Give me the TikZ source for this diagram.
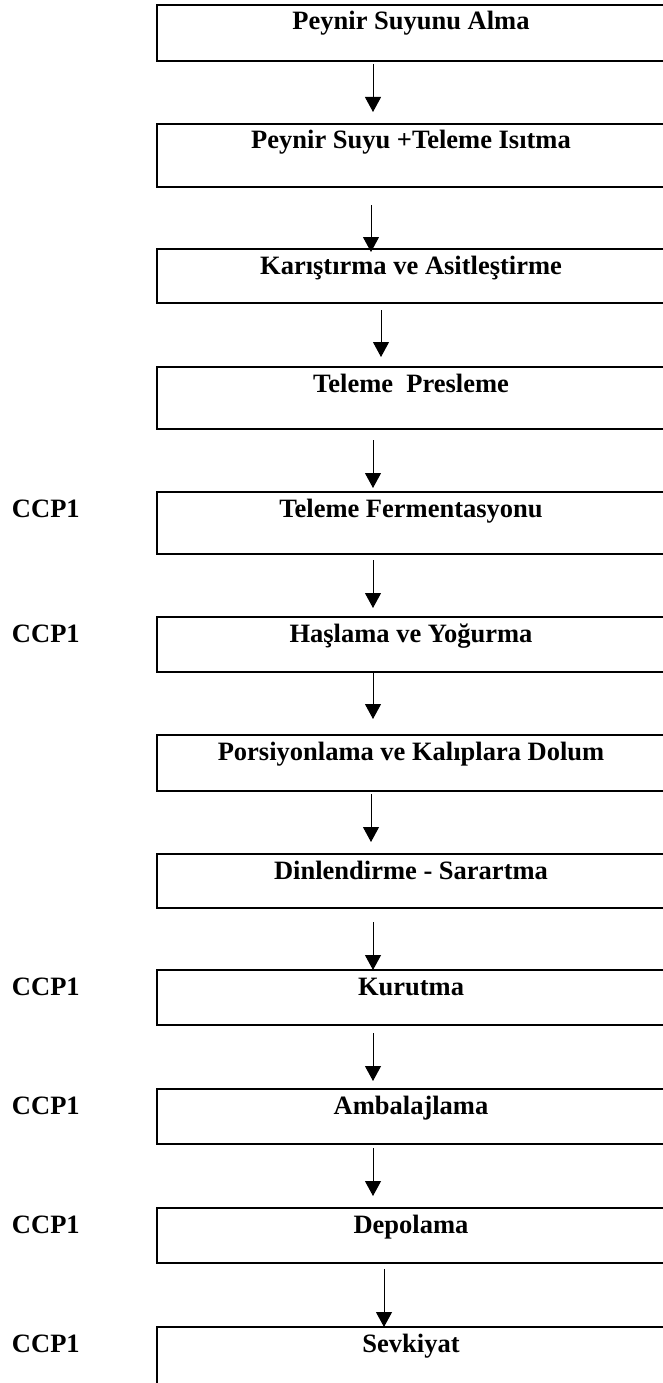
\documentclass[tikz,border=0pt]{standalone}
\usepackage{fontspec}
\setmainfont{Liberation Serif}
\usetikzlibrary{arrows.meta}
\tikzset{
  stepbox/.style={draw=black, line width=2pt, rectangle, inner sep=0pt, outer sep=0pt, minimum width=508pt, anchor=north west},
  steptext/.style={inner sep=0pt, outer sep=0pt, anchor=base, font=\fontsize{26.5}{30}\selectfont\bfseries},
  ccp/.style={inner sep=0pt, outer sep=0pt, anchor=base west, font=\fontsize{26.5}{30}\selectfont\bfseries},
  arr/.style={line width=1pt, -{Triangle[width=16pt,length=15pt]}}
}
\begin{document}
\begin{tikzpicture}[x=1pt,y=-1pt]
\useasboundingbox[fill=white] (0,0) rectangle (662,1383);
% boxes
\node[stepbox, minimum height=56pt] (b1) at (157,5) {};
\node[stepbox, minimum height=63pt] (b2) at (157,124) {};
\node[stepbox, minimum height=54pt] (b3) at (157,249) {};
\node[stepbox, minimum height=62pt] (b4) at (157,367) {};
\node[stepbox, minimum height=62pt] (b5) at (157,492) {};
\node[stepbox, minimum height=55pt] (b6) at (157,617) {};
\node[stepbox, minimum height=56pt] (b7) at (157,735) {};
\node[stepbox, minimum height=54pt] (b8) at (157,854) {};
\node[stepbox, minimum height=55pt] (b9) at (157,970) {};
\node[stepbox, minimum height=55pt] (b10) at (157,1089) {};
\node[stepbox, minimum height=55pt] (b11) at (157,1208) {};
\node[stepbox, minimum height=61pt] (b12) at (157,1327) {};
% texts
\node[steptext] (t1) at ([yshift=-25pt]b1.north) {Peynir Suyunu Alma};
\node[steptext] (t2) at ([yshift=-25pt]b2.north) {Peynir Suyu +Teleme Isıtma};
\node[steptext] (t3) at ([yshift=-25pt]b3.north) {Karıştırma ve Asitleştirme};
\node[steptext] (t4) at ([yshift=-25pt]b4.north) {Teleme~~Presleme};
\node[steptext] (t5) at ([yshift=-25pt]b5.north) {Teleme Fermentasyonu};
\node[steptext] (t6) at ([yshift=-25pt]b6.north) {Haşlama ve Yoğurma};
\node[steptext] (t7) at ([yshift=-25pt]b7.north) {Porsiyonlama ve Kalıplara Dolum};
\node[steptext] (t8) at ([yshift=-25pt]b8.north) {Dinlendirme - Sarartma};
\node[steptext] (t9) at ([yshift=-25pt]b9.north) {Kurutma};
\node[steptext] (t10) at ([yshift=-25pt]b10.north) {Ambalajlama};
\node[steptext] (t11) at ([yshift=-25pt]b11.north) {Depolama};
\node[steptext] (t12) at ([yshift=-25pt]b12.north) {Sevkiyat};
% CCP labels
\node[ccp] (c5) at (12,517) {CCP1};
\node[ccp] (c6) at (12,642) {CCP1};
\node[ccp] (c9) at (12,995) {CCP1};
\node[ccp] (c10) at (12,1114) {CCP1};
\node[ccp] (c11) at (12,1233) {CCP1};
\node[ccp] (c12) at (12,1352) {CCP1};
% arrows
\draw[arr] ([xshift=216pt,yshift=-3pt]b1.south west) -- ([xshift=216pt,yshift=12pt]b2.north west);
\draw[arr] ([xshift=214pt,yshift=-18pt]b2.south west) -- ([xshift=214pt,yshift=-3pt]b3.north west);
\draw[arr] ([xshift=224pt,yshift=-7pt]b3.south west) -- ([xshift=224pt,yshift=10pt]b4.north west);
\draw[arr] ([xshift=216pt,yshift=-11pt]b4.south west) -- ([xshift=216pt,yshift=4pt]b5.north west);
\draw[arr] ([xshift=216pt,yshift=-6pt]b5.south west) -- ([xshift=216pt,yshift=9pt]b6.north west);
\draw[arr] ([xshift=216pt,yshift=-1pt]b6.south west) -- ([xshift=216pt,yshift=16pt]b7.north west);
\draw[arr] ([xshift=214pt,yshift=-3pt]b7.south west) -- ([xshift=214pt,yshift=12pt]b8.north west);
\draw[arr] ([xshift=216pt,yshift=-14pt]b8.south west) -- ([xshift=216pt,yshift=0pt]b9.north west);
\draw[arr] ([xshift=216pt,yshift=-8pt]b9.south west) -- ([xshift=216pt,yshift=8pt]b10.north west);
\draw[arr] ([xshift=216pt,yshift=-4pt]b10.south west) -- ([xshift=216pt,yshift=12pt]b11.north west);
\draw[arr] ([xshift=227pt,yshift=-6pt]b11.south west) -- ([xshift=227pt,yshift=0pt]b12.north west);
\end{tikzpicture}
\end{document}
